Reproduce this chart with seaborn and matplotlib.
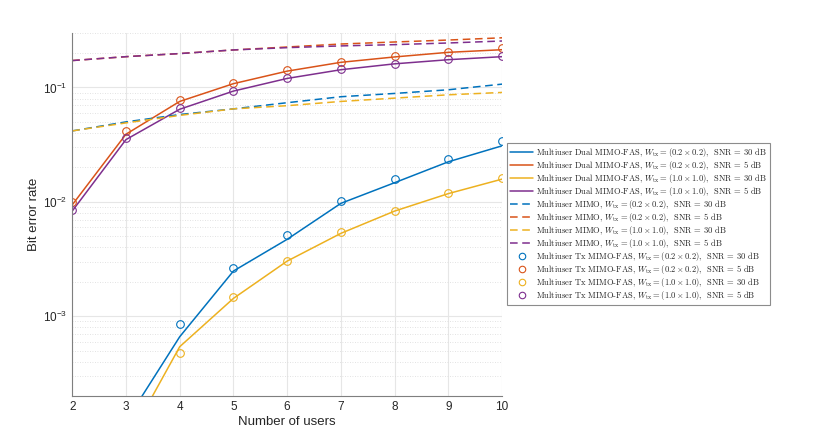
import numpy as np
import pandas as pd
import matplotlib
matplotlib.use("Agg")
import matplotlib.pyplot as plt
import matplotlib.ticker as mticker
import seaborn as sns

# ==========================================
# DATA
# ==========================================

users = [2, 3, 4, 5, 6, 7, 8, 9, 10]

# Multiuser Dual MIMO-FAS (solid lines)
dual_02_30 = [1.5e-5, 1.2e-4, 6.6e-4, 0.00248, 0.0047, 0.0097, 0.0147, 0.0224, 0.0309]
dual_02_5 = [0.0094, 0.039, 0.0755, 0.108, 0.139, 0.166, 0.185, 0.203, 0.214]
dual_10_30 = [1.0e-5, 7.6e-5, 5.4e-4, 0.00143, 0.00303, 0.0053, 0.0083, 0.0118, 0.0158]
dual_10_5 = [0.0083, 0.0350, 0.0645, 0.093, 0.120, 0.143, 0.161, 0.175, 0.186]

# Multiuser MIMO (dashed lines)
mimo_02_30 = [0.0417, 0.050, 0.058, 0.065, 0.0736, 0.083, 0.0887, 0.0955, 0.107]
mimo_02_5 = [0.172, 0.186, 0.198, 0.213, 0.226, 0.240, 0.250, 0.260, 0.272]
mimo_10_30 = [0.0417, 0.049, 0.057, 0.065, 0.0693, 0.0755, 0.0807, 0.0863, 0.0905]
mimo_10_5 = [0.172, 0.186, 0.198, 0.213, 0.223, 0.231, 0.237, 0.245, 0.255]

# Multiuser Tx MIMO-FAS (circles)
tx_02_30 = [np.nan, np.nan, 0.00086, 0.00265, 0.0051, 0.0102, 0.0158, 0.0238, 0.034]
tx_02_5 = [0.0099, 0.0417, 0.0776, 0.110, 0.141, 0.168, 0.187, 0.206, 0.220]
tx_10_30 = [np.nan, np.nan, 0.00048, 0.00146, 0.00305, 0.0054, 0.00836, 0.0119, 0.0161]
tx_10_5 = [0.0085, 0.0358, 0.0657, 0.094, 0.121, 0.144, 0.162, 0.176, 0.187]

colors = ["#0072BD", "#D95319", "#EDB120", "#7E2F8E"]
configs = [
    (r"(0.2 \times 0.2)", "30"),
    (r"(0.2 \times 0.2)", "5"),
    (r"(1.0 \times 1.0)", "30"),
    (r"(1.0 \times 1.0)", "5"),
]

# ==========================================
# STYLE
# ==========================================

sns.set_style("white")
plt.rcParams["font.family"] = ["Liberation Sans", "DejaVu Sans"]
plt.rcParams["mathtext.fontset"] = "cm"

fig = plt.figure(figsize=(8.3, 4.45), dpi=100)
ax = fig.add_axes([0.087, 0.11, 0.518, 0.816])


def label(name, w, snr):
    return name + r", $W_{\mathrm{tx}} = " + w + r"$,  SNR = " + snr + " dB"


# solid lines
for vals, c, (w, snr) in zip([dual_02_30, dual_02_5, dual_10_30, dual_10_5], colors, configs):
    sns.lineplot(x=users, y=vals, ax=ax, color=c, linewidth=1.1,
                 label=label("Multiuser Dual MIMO-FAS", w, snr))

# dashed lines
for vals, c, (w, snr) in zip([mimo_02_30, mimo_02_5, mimo_10_30, mimo_10_5], colors, configs):
    sns.lineplot(x=users, y=vals, ax=ax, color=c, linewidth=1.1,
                 linestyle=(0, (5, 3)),
                 label=label("Multiuser MIMO", w, snr))

# circle markers
for vals, c, (w, snr) in zip([tx_02_30, tx_02_5, tx_10_30, tx_10_5], colors, configs):
    df = pd.DataFrame({"u": users, "ber": vals}).dropna()
    sns.lineplot(data=df, x="u", y="ber", ax=ax, color=c, linestyle="none",
                 marker="o", markersize=5.5, markerfacecolor="none",
                 markeredgecolor=c, markeredgewidth=0.8,
                 label=label("Multiuser Tx MIMO-FAS", w, snr))

# ==========================================
# AXES
# ==========================================

ax.set_yscale("log")
ax.set_xlim(2, 10)
ax.set_ylim(2e-4, 0.3)
ax.set_xticks(users)
ax.yaxis.set_major_locator(mticker.FixedLocator([1e-3, 1e-2, 1e-1]))
ax.yaxis.set_minor_locator(mticker.LogLocator(base=10, subs=np.arange(2, 10)))
ax.yaxis.set_minor_formatter(mticker.NullFormatter())

ax.grid(True, which="major", color="#e6e6e6", linewidth=0.8)
ax.grid(True, which="minor", axis="y", color="#d9d9d9", linewidth=0.6, linestyle=(0, (1, 2)))
ax.set_axisbelow(True)

for side in ["top", "right"]:
    ax.spines[side].set_visible(False)
for side in ["left", "bottom"]:
    ax.spines[side].set_color("#7f7f7f")
    ax.spines[side].set_linewidth(0.8)

ax.tick_params(axis="both", which="both", direction="in", colors="#262626",
               labelsize=8.5, length=3, width=0.6)
ax.tick_params(axis="both", which="minor", length=1.5)

ax.set_xlabel("Number of users", fontsize=9.5, color="#262626", labelpad=2)
ax.set_ylabel("Bit error rate", fontsize=9.5, color="#262626", labelpad=2)

leg = ax.legend(loc="upper left", bbox_to_anchor=(0.611, 0.679),
                bbox_transform=fig.transFigure,
                prop={"family": "cmr10", "size": 6.1},
                frameon=True, fancybox=False, framealpha=1,
                edgecolor="#8c8c8c", borderpad=0.35, labelspacing=0.0,
                handlelength=2.7, handletextpad=0.4, borderaxespad=0,
                markerscale=0.85)
leg.get_frame().set_linewidth(0.8)

plt.savefig("out.png", dpi=100)
